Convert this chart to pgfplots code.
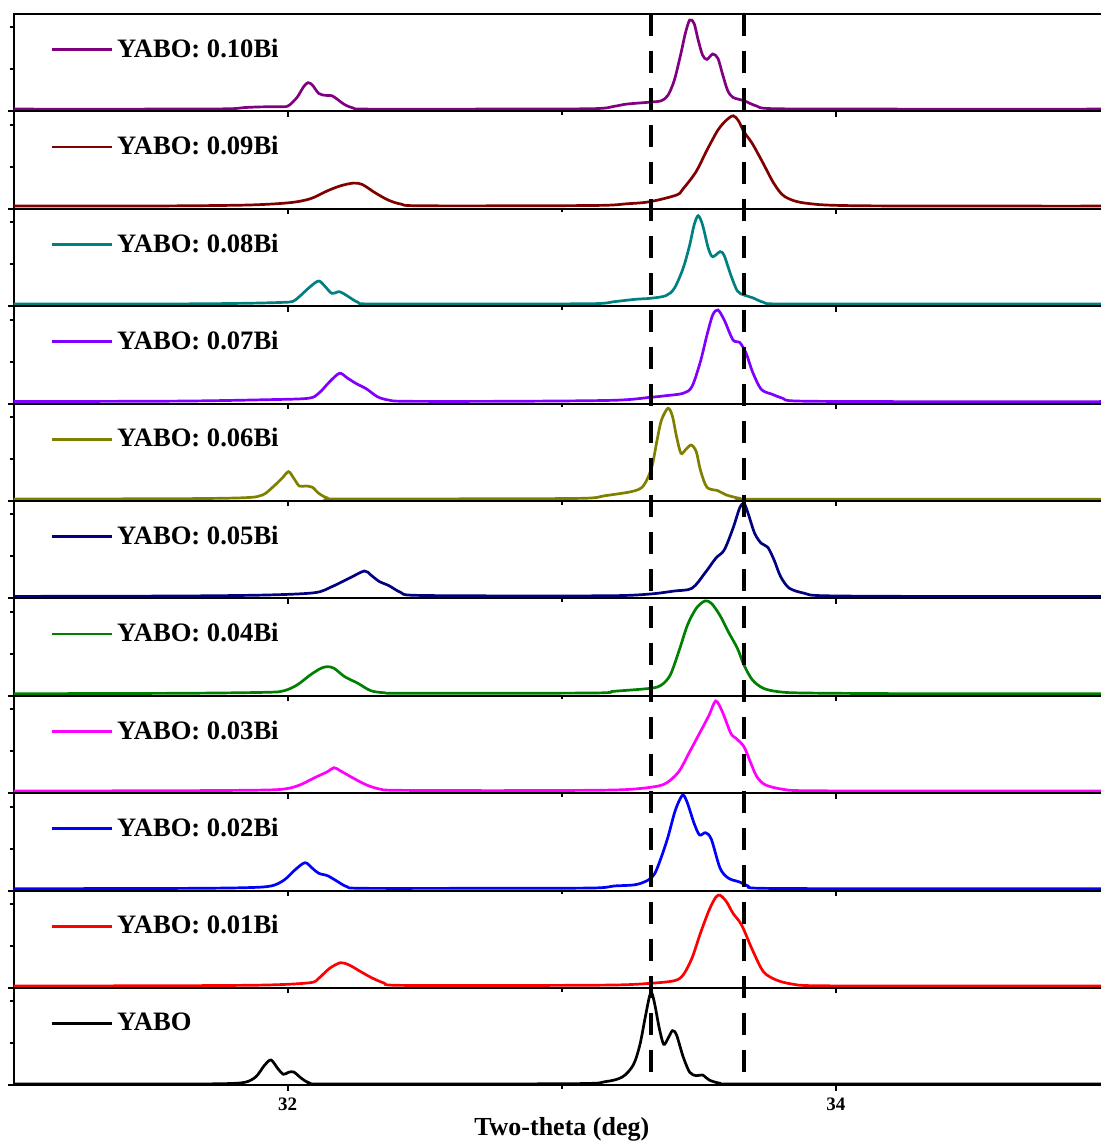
\documentclass[border=0pt]{standalone}
\usepackage{fontspec}
\setmainfont{Liberation Serif}
\usepackage{pgfplots}
\pgfplotsset{compat=1.18}
\definecolor{c10}{RGB}{128,0,128}
\definecolor{c09}{RGB}{128,0,0}
\definecolor{c08}{RGB}{0,128,128}
\definecolor{c07}{RGB}{128,0,255}
\definecolor{c06}{RGB}{128,128,0}
\definecolor{c05}{RGB}{0,0,128}
\definecolor{c04}{RGB}{0,128,0}
\definecolor{c03}{RGB}{255,0,255}
\definecolor{c02}{RGB}{0,0,255}
\definecolor{c01}{RGB}{255,0,0}
\pgfplotsset{
  panel/.style={
    scale only axis, width=548pt, height=48.7pt, anchor=south west,
    xmin=31, xmax=35, ymin=0, ymax=97.4,
    xtick={32,34}, minor xtick={33}, ytick={0}, minor ytick={42,84},
    xticklabels={}, yticklabels={},
    tick align=outside, tick pos=left,
    major tick length=2.7pt, minor tick length=1.8pt,
    every tick/.style={black, line width=1pt},
    axis line style={line width=1pt},
    every axis plot post/.append style={line width=1.35pt, mark=none, smooth},
    legend style={draw=none, fill=none, at={(0,1)}, anchor=west,
      xshift=18.1pt, yshift=-17.8pt, inner sep=0pt,
      font=\bfseries\fontsize{13.3}{15}\selectfont},
    legend image code/.code={\draw[##1, line width=1.35pt] (0pt,0pt) -- (30pt,0pt);},
    legend cell align=left,
  }
}
\begin{document}
\begin{tikzpicture}
% 0.10Bi
\begin{axis}[panel, at={(0,487pt)}]
\addplot[c10] coordinates {(31.00,2.3) (31.50,2.3) (31.78,2.6) (31.84,3.8) (31.90,4.5) (31.98,4.7) (32.003,5.7) (32.034,14) (32.058,24.7) (32.074,28.7) (32.090,26.3) (32.113,18) (32.137,16) (32.161,15.7) (32.185,11.3) (32.208,6.7) (32.240,3.3) (32.288,2.3) (32.70,2.3) (33.111,2.7) (33.190,5) (33.237,7.3) (33.324,9.3) (33.364,10.7) (33.388,16.3) (33.411,31.3) (33.435,58) (33.451,78) (33.467,91.3) (33.483,88) (33.498,71.3) (33.514,56.3) (33.530,52) (33.551,57.4) (33.570,53) (33.586,38) (33.605,21.3) (33.625,14) (33.665,10.7) (33.712,5.3) (33.775,2.7) (34.2,2.3) (35.0,2.3)};
\addlegendentry{YABO: 0.10Bi}
\end{axis}
% 0.09Bi
\begin{axis}[panel, at={(0,438.3pt)}]
\addplot[c09] coordinates {(31.00,2.7) (31.50,2.8) (31.844,3.7) (32.003,6) (32.082,10) (32.145,18) (32.193,23) (32.240,25.7) (32.272,24.3) (32.319,16) (32.367,8.7) (32.414,4.7) (32.493,3) (33.111,3.3) (33.237,5) (33.322,7.1) (33.419,13.8) (33.443,20) (33.490,37) (33.530,58.7) (33.570,78.7) (33.601,88.7) (33.626,93) (33.645,88) (33.665,77) (33.696,65) (33.736,45) (33.775,25) (33.815,12) (33.894,5.5) (34.1,3) (35.0,2.7)};
\addlegendentry{YABO: 0.09Bi}
\end{axis}
% 0.08Bi
\begin{axis}[panel, at={(0,389.6pt)}]
\addplot[c08] coordinates {(31.00,2.2) (31.60,2.3) (31.844,2.9) (31.98,3.8) (32.019,4.8) (32.042,9.5) (32.082,19.5) (32.113,25.2) (32.137,19.5) (32.161,12.9) (32.189,14.5) (32.216,10.5) (32.256,3.9) (32.303,2.2) (32.70,2.3) (33.111,2.5) (33.190,4.5) (33.269,6.9) (33.324,7.9) (33.380,10.5) (33.411,17.9) (33.443,37.9) (33.467,61.2) (33.483,81.2) (33.498,90.5) (33.514,81.2) (33.535,57.9) (33.551,49.5) (33.578,54.5) (33.593,50.5) (33.617,31.2) (33.641,15.2) (33.665,11.2) (33.696,8.5) (33.736,3.9) (33.791,2.2) (34.2,2.2) (35.0,2.2)};
\addlegendentry{YABO: 0.08Bi}
\end{axis}
% 0.07Bi
\begin{axis}[panel, at={(0,340.9pt)}]
\addplot[c07] coordinates {(31.00,2.0) (31.60,2.5) (31.924,3.9) (32.074,5.3) (32.113,10.3) (32.153,21.9) (32.189,30.3) (32.216,25.9) (32.248,20.3) (32.288,14.6) (32.327,6.9) (32.367,3.6) (32.430,2.3) (32.80,2.3) (33.190,3.3) (33.324,6.3) (33.380,7.9) (33.443,10.3) (33.475,16.9) (33.506,41.9) (33.530,68.6) (33.551,88.6) (33.570,93.6) (33.593,83.6) (33.625,63.6) (33.649,61.3) (33.673,50.3) (33.696,31.9) (33.728,14.3) (33.768,9.3) (33.807,5.3) (33.855,2.6) (34.2,2.0) (35.0,2.0)};
\addlegendentry{YABO: 0.07Bi}
\end{axis}
% 0.06Bi
\begin{axis}[panel, at={(0,292.2pt)}]
\addplot[c06] coordinates {(31.00,2.0) (31.60,2.3) (31.844,3.3) (31.908,6) (31.947,14.3) (31.979,22.7) (32.003,29.3) (32.022,22.7) (32.042,15) (32.066,15) (32.090,13.7) (32.113,7.7) (32.145,3) (32.193,2) (32.70,2.2) (33.079,2.7) (33.158,5.3) (33.253,9.3) (33.293,13.7) (33.316,24.3) (33.332,37.7) (33.348,61) (33.364,81) (33.388,92.7) (33.404,84.7) (33.419,64.3) (33.435,47.7) (33.451,51) (33.472,56) (33.491,49.3) (33.506,31) (33.530,13.7) (33.570,10.3) (33.601,6) (33.649,2.7) (33.696,1.8) (34.2,1.8) (35.0,1.8)};
\addlegendentry{YABO: 0.06Bi}
\end{axis}
% 0.05Bi
\begin{axis}[panel, at={(0,243.5pt)}]
\addplot[c05] coordinates {(31.00,2.0) (31.60,2.4) (31.924,3.4) (32.098,5.7) (32.161,11.7) (32.224,20.1) (32.280,27.4) (32.303,23.4) (32.335,16.7) (32.367,13.1) (32.414,5.7) (32.462,3.1) (32.80,2.5) (33.190,2.7) (33.324,4.4) (33.411,7.4) (33.475,10.1) (33.522,25.1) (33.562,40.1) (33.593,48.4) (33.625,70.1) (33.649,90.1) (33.665,95.1) (33.680,85.1) (33.704,65.1) (33.728,55.1) (33.752,51.1) (33.775,38.4) (33.799,21.7) (33.831,10.1) (33.886,5.1) (33.950,2.7) (34.3,2.0) (35.0,2.0)};
\addlegendentry{YABO: 0.05Bi}
\end{axis}
% 0.04Bi
\begin{axis}[panel, at={(0,194.8pt)}]
\addplot[c04] coordinates {(31.00,2.1) (31.60,2.5) (31.924,3.5) (31.987,5.1) (32.034,10.8) (32.082,20.8) (32.121,27.5) (32.145,29.1) (32.169,27.5) (32.208,19.1) (32.256,12.5) (32.303,5.1) (32.351,3.1) (32.430,2.5) (33.111,2.8) (33.190,4.5) (33.324,7.5) (33.364,10.8) (33.396,20.8) (33.427,44.1) (33.459,70.8) (33.491,87.5) (33.522,94.8) (33.546,92.5) (33.578,80.1) (33.609,63.5) (33.641,47.5) (33.665,30.8) (33.696,15.8) (33.736,7.5) (33.791,4.1) (33.886,2.8) (34.3,2.1) (35.0,2.1)};
\addlegendentry{YABO: 0.04Bi}
\end{axis}
% 0.03Bi
\begin{axis}[panel, at={(0,146.1pt)}]
\addplot[c03] coordinates {(31.00,2.2) (31.60,2.5) (31.924,3.2) (32.003,4.9) (32.050,8.9) (32.098,15.5) (32.145,21.5) (32.169,25.5) (32.193,22.2) (32.240,14.9) (32.288,8.2) (32.335,4.2) (32.398,2.9) (32.80,2.6) (33.190,3.2) (33.324,5.9) (33.380,9.9) (33.427,21.5) (33.467,41.5) (33.506,61.5) (33.538,78.2) (33.562,92.2) (33.586,81.5) (33.617,59.9) (33.636,54.9) (33.665,46.5) (33.688,31.5) (33.712,16.5) (33.744,8.2) (33.807,3.9) (33.886,2.5) (34.3,2.2) (35.0,2.2)};
\addlegendentry{YABO: 0.03Bi}
\end{axis}
% 0.02Bi
\begin{axis}[panel, at={(0,97.4pt)}]
\addplot[c02] coordinates {(31.00,1.9) (31.60,2.2) (31.844,2.9) (31.939,4.6) (31.987,10.6) (32.026,20.6) (32.063,27.9) (32.090,22.3) (32.113,17.3) (32.145,14.9) (32.177,9.9) (32.216,3.9) (32.272,2.3) (32.70,2.3) (33.111,2.6) (33.190,4.6) (33.269,5.9) (33.316,10.6) (33.340,17.3) (33.364,33.9) (33.388,53.9) (33.411,77.3) (33.427,88.9) (33.443,95.6) (33.459,87.3) (33.483,67.3) (33.503,55.6) (33.525,57.9) (33.546,51.3) (33.578,22.3) (33.609,12.3) (33.649,8.6) (33.680,4.6) (33.728,2.3) (34.2,1.9) (35.0,1.9)};
\addlegendentry{YABO: 0.02Bi}
\end{axis}
% 0.01Bi
\begin{axis}[panel, at={(0,48.7pt)}]
\addplot[c01] coordinates {(31.00,2.0) (31.60,2.3) (31.924,3) (32.082,5.3) (32.113,9.7) (32.153,19.7) (32.193,25.3) (32.224,23) (32.256,18) (32.303,10.7) (32.351,5) (32.398,2.7) (32.80,2.5) (33.190,3) (33.324,4.7) (33.411,7.3) (33.443,13) (33.475,29.7) (33.506,54.7) (33.538,78) (33.562,90.7) (33.578,92.7) (33.601,86.3) (33.625,74.7) (33.649,66.3) (33.665,58) (33.696,38) (33.736,16.3) (33.783,8) (33.839,4) (33.918,2.3) (34.3,2.0) (35.0,2.0)};
\addlegendentry{YABO: 0.01Bi}
\end{axis}
% YABO
\begin{axis}[panel, at={(0,0)}, xticklabels={32,34},
  xticklabel style={font=\bfseries\fontsize{9.5}{11}\selectfont},
  xlabel={Two-theta (deg)},
  xlabel style={at={(axis description cs:0.5,0)}, anchor=base, yshift=-25pt,
    font=\bfseries\fontsize{13}{15}\selectfont}]
\addplot[black] coordinates {(31.00,1.4) (31.60,1.5) (31.765,1.7) (31.844,3.1) (31.884,8.7) (31.916,20.4) (31.939,25.4) (31.963,17.1) (31.984,11.1) (32.003,13.1) (32.022,13.4) (32.050,7.1) (32.082,2.1) (32.145,1.4) (33.032,1.7) (33.158,3.7) (33.221,8.4) (33.261,20.4) (33.285,40.4) (33.304,67.1) (33.320,88.7) (33.329,92.1) (33.340,80.4) (33.356,57.1) (33.372,41.1) (33.388,47.1) (33.404,54.7) (33.419,50.4) (33.443,28.7) (33.467,13.1) (33.491,9.7) (33.514,10.4) (33.538,5.4) (33.578,2.1) (33.633,1.4) (34.2,1.4) (35.0,1.4)};
\addlegendentry{YABO}
\end{axis}
% reference lines
\begin{axis}[at={(0,0)}, anchor=south west, scale only axis, width=548pt, height=535.7pt,
  xmin=31, xmax=35, ymin=0, ymax=1, hide axis]
\addplot[black, line width=2pt, dash pattern=on 11pt off 7.5pt] coordinates {(33.324,1) (33.324,0)};
\addplot[black, line width=2pt, dash pattern=on 11pt off 7.5pt] coordinates {(33.664,1) (33.664,0)};
\end{axis}
\pgfresetboundingbox
\path[use as bounding box] (-6.875pt,-28.3pt) rectangle (543.125pt,542.7pt);
\end{tikzpicture}
\end{document}
